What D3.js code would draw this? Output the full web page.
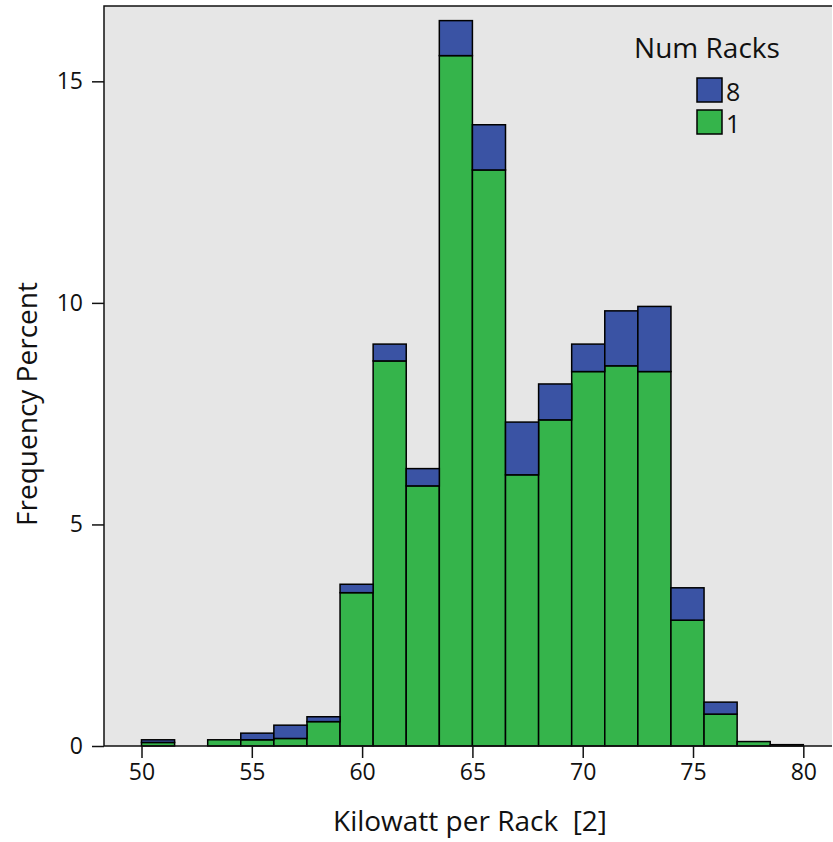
<!DOCTYPE html>
<html>
<head>
<meta charset="utf-8">
<script src="https://cdn.jsdelivr.net/npm/d3@7"></script>
<style>
  body { margin: 0; background: #fff; }
  svg text { font-family: "Open Sans", sans-serif; fill: #111; }
</style>
</head>
<body>
<div id="chart"></div>
<script>
// bin starts, width 1.5 kW
var binStarts = [50, 51.5, 53, 54.5, 56, 57.5, 59, 60.5, 62, 63.5, 65, 66.5, 68, 69.5, 71, 72.5, 74, 75.5, 77, 78.5];
var binWidth = 1.5;
// percent for Num Racks = 1 (green, bottom)
var racks1 = [0.08, 0, 0.14, 0.14, 0.17, 0.55, 3.46, 8.69, 5.87, 15.58, 13.0, 6.12, 7.36, 8.45, 8.58, 8.45, 2.84, 0.72, 0.1, 0];
// percent for Num Racks = 8 (blue, stacked on top)
var racks8 = [0.06, 0, 0, 0.15, 0.3, 0.11, 0.19, 0.38, 0.39, 0.79, 1.02, 1.19, 0.81, 0.62, 1.24, 1.47, 0.73, 0.27, 0, 0.03];
var xTicks = [50, 55, 60, 65, 70, 75, 80];
var yTicks = [0, 5, 10, 15];

var width = 833, height = 842;
var plotLeft = 104, plotRight = 832, plotTop = 6, plotBottom = 746;

var svg = d3.select("#chart").append("svg")
  .attr("width", width)
  .attr("height", height);

var x = d3.scaleLinear().domain([48.3, 81.3]).range([plotLeft, plotRight]);
var y = d3.scaleLinear().domain([0, 16.7]).range([plotBottom, plotTop]);

svg.append("rect")
  .attr("x", plotLeft).attr("y", plotTop)
  .attr("width", plotRight - plotLeft).attr("height", plotBottom - plotTop)
  .attr("fill", "#e6e6e6");

var bins = binStarts.map(function(s, i) {
  return { x0: s, x1: s + binWidth, g: racks1[i], b: racks8[i] };
});

// green part
svg.selectAll("rect.g")
  .data(bins.filter(function(d) { return d.g > 0; }))
  .enter().append("rect")
  .attr("class", "g")
  .attr("x", function(d) { return x(d.x0); })
  .attr("width", function(d) { return x(d.x1) - x(d.x0); })
  .attr("y", function(d) { return y(d.g); })
  .attr("height", function(d) { return y(0) - y(d.g); })
  .attr("fill", "#35b44b")
  .attr("stroke", "#000")
  .attr("stroke-width", 1.5);

// blue part
svg.selectAll("rect.b")
  .data(bins.filter(function(d) { return d.b > 0; }))
  .enter().append("rect")
  .attr("class", "b")
  .attr("x", function(d) { return x(d.x0); })
  .attr("width", function(d) { return x(d.x1) - x(d.x0); })
  .attr("y", function(d) { return y(d.g + d.b); })
  .attr("height", function(d) { return y(d.g) - y(d.g + d.b); })
  .attr("fill", "#3a53a4")
  .attr("stroke", "#000")
  .attr("stroke-width", 1.5);

// frame
svg.append("path")
  .attr("d", "M" + plotRight + "," + plotTop + "H" + plotLeft + "V" + plotBottom + "H" + plotRight)
  .attr("fill", "none")
  .attr("stroke", "#111")
  .attr("stroke-width", 1.5);

var xAxis = svg.append("g")
  .attr("transform", "translate(0," + plotBottom + ")")
  .call(d3.axisBottom(x).tickValues(xTicks).tickSize(12).tickPadding(6));
var yAxis = svg.append("g")
  .attr("transform", "translate(" + plotLeft + ",0)")
  .call(d3.axisLeft(y).tickValues(yTicks).tickSize(12).tickPadding(9));

[xAxis, yAxis].forEach(function(a) {
  a.select(".domain").remove();
  a.selectAll("line").attr("stroke", "#111").attr("stroke-width", 1.5);
  a.selectAll("text").style("font-size", "23px").attr("fill", "#111");
});

svg.append("text")
  .attr("x", 470).attr("y", 831)
  .attr("text-anchor", "middle")
  .attr("xml:space", "preserve")
  .style("font-size", "28px")
  .text("Kilowatt per Rack  [2]");

svg.append("text")
  .attr("transform", "translate(37,404) rotate(-90)")
  .attr("text-anchor", "middle")
  .style("font-size", "28px")
  .text("Frequency Percent");

// legend
var legend = svg.append("g");
legend.append("text")
  .attr("x", 707).attr("y", 58)
  .attr("text-anchor", "middle")
  .style("font-size", "28px")
  .text("Num Racks");
var legendItems = [{ label: "8", color: "#3a53a4" }, { label: "1", color: "#35b44b" }];
legend.selectAll("rect.leg")
  .data(legendItems)
  .enter().append("rect")
  .attr("class", "leg")
  .attr("x", 697)
  .attr("y", function(d, i) { return 78 + i * 32; })
  .attr("width", 25).attr("height", 24)
  .attr("fill", function(d) { return d.color; })
  .attr("stroke", "#000")
  .attr("stroke-width", 1.5);
legend.selectAll("text.leg")
  .data(legendItems)
  .enter().append("text")
  .attr("class", "leg")
  .attr("x", 726)
  .attr("y", function(d, i) { return 101 + i * 32; })
  .style("font-size", "25px")
  .text(function(d) { return d.label; });
</script>
</body>
</html>
